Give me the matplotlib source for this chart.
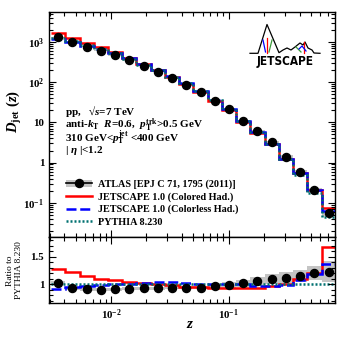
import numpy as np
import matplotlib
matplotlib.use('Agg')
import matplotlib.pyplot as plt
from matplotlib.lines import Line2D
from matplotlib.patches import Patch
from matplotlib.ticker import LogLocator, MultipleLocator, FuncFormatter, NullFormatter, FixedLocator

plt.rcParams['font.family'] = ['Liberation Serif', 'DejaVu Serif']
plt.rcParams['font.weight'] = 'bold'
plt.rcParams['mathtext.fontset'] = 'custom'
plt.rcParams['mathtext.rm'] = 'Liberation Serif:bold'
plt.rcParams['mathtext.it'] = 'Liberation Serif:italic:bold'
plt.rcParams['mathtext.bf'] = 'Liberation Serif:bold'

# z bin edges (log spaced)
z_edges = np.array([0.00309, 0.00408, 0.00540, 0.00713, 0.00942, 0.01245, 0.01644,
                    0.02173, 0.0287, 0.0379, 0.0501, 0.0662, 0.0875, 0.1156, 0.1528,
                    0.2018, 0.2667, 0.3524, 0.4656, 0.6152, 0.8128])

# D_jet(z), main panel
atlas = np.array([1290, 966, 751, 598, 468, 351, 253, 180, 128, 87, 55.5, 34.4, 21, 11,
                  6.2, 3.2, 1.4, 0.58, 0.21, 0.055])
atlas_rel_err = np.array([0.03, 0.03, 0.03, 0.03, 0.03, 0.03, 0.03, 0.03, 0.03, 0.03,
                          0.035, 0.04, 0.05, 0.06, 0.07, 0.08, 0.09, 0.10, 0.11, 0.15])
pythia = np.array([1265, 1039, 825, 664, 514, 384, 272, 194, 137, 92.6, 59.0, 35.8, 21.2,
                   10.8, 5.9, 2.91, 1.25, 0.504, 0.175, 0.0447])
colored = np.array([1615, 1271, 949, 730, 554, 398, 277, 195, 134, 88.0, 56.1, 33.7, 19.9,
                    10.0, 5.49, 2.84, 1.26, 0.549, 0.212, 0.0751])
colorless = np.array([1151, 983, 800, 651, 519, 388, 280, 202, 142, 95.4, 59.6, 36.2, 21.4,
                      10.9, 5.72, 2.82, 1.23, 0.544, 0.207, 0.0612])

# ratios to PYTHIA 8.230
atlas_ratio = np.array([1.02, 0.93, 0.91, 0.90, 0.91, 0.915, 0.93, 0.93, 0.935, 0.94, 0.94,
                        0.96, 0.99, 1.02, 1.05, 1.10, 1.12, 1.15, 1.20, 1.23])
colored_ratio = np.array([1.277, 1.223, 1.15, 1.10, 1.078, 1.036, 1.02, 1.005, 0.98, 0.95,
                          0.95, 0.94, 0.94, 0.93, 0.93, 0.975, 1.005, 1.09, 1.21, 1.68])
colorless_ratio = np.array([0.91, 0.946, 0.97, 0.98, 1.01, 1.01, 1.03, 1.04, 1.04, 1.03,
                            1.01, 1.01, 1.01, 1.01, 0.97, 0.97, 0.98, 1.08, 1.18, 1.37])
pythia_ratio = pythia / pythia

z_mid = np.sqrt(z_edges[:-1] * z_edges[1:])

RED = '#ff0000'
BLUE = '#0000ff'
TEAL = '#007070'
GREY = '#c4c4c4'
FS = 8.0

fig = plt.figure(figsize=(3.53, 3.39), dpi=100)
ax = fig.add_axes([0.1388, 0.30, 0.8102, 0.6637])
rax = fig.add_axes([0.1388, 0.1053, 0.8102, 0.1947], sharex=ax)

# main panel
ax.stairs(atlas * (1 + atlas_rel_err), z_edges, baseline=atlas * (1 - atlas_rel_err),
          fill=True, color=GREY, lw=0)
ax.stairs(colored, z_edges, baseline=None, color=RED, lw=1.8)
ax.stairs(colorless, z_edges, baseline=None, color=BLUE, lw=1.8, ls=(0, (4, 1.5)))
ax.stairs(pythia, z_edges, baseline=None, color=TEAL, lw=1.8, ls=(0, (0.8, 0.8)))
ax.plot(z_mid, atlas, 'o', color='k', ms=5.8, zorder=5)

ax.set_xscale('log')
ax.set_yscale('log')
ax.set_xlim(0.00297, 0.80)
ax.set_ylim(0.014, 5400)

def ylabfmt(v, pos):
    e = int(round(np.log10(v)))
    if e == 0:
        return '1'
    if e == 1:
        return '10'
    return r'$10^{%d}$' % e

ax.yaxis.set_major_locator(LogLocator(base=10, numticks=20))
ax.yaxis.set_minor_locator(LogLocator(base=10, subs=np.arange(2, 10), numticks=20))
ax.yaxis.set_major_formatter(FuncFormatter(ylabfmt))
ax.yaxis.set_minor_formatter(NullFormatter())
ax.tick_params(axis='x', which='both', labelbottom=False)

ax.set_ylabel(r'$D_{\rm jet}\ (z)$', fontsize=10.5)
ax.yaxis.set_label_coords(-0.088, 0.56)

ax.text(0.056, 0.557, r'pp,   √$s$=7 TeV', transform=ax.transAxes, fontsize=FS,
        va='center')
ax.text(0.056, 0.499, r'anti-$k_{\rm T}$  $R$=0.6,  $p_{\rm T}^{\rm trk}$>0.5 GeV',
        transform=ax.transAxes, fontsize=FS, va='center')
ax.text(0.056, 0.441, r'310 GeV<$p_{\rm T}^{\rm jet}$ <400 GeV', transform=ax.transAxes,
        fontsize=FS, va='center')
ax.text(0.056, 0.385, r'| $\eta$ |<1.2', transform=ax.transAxes, fontsize=FS, va='center')

handles = [(Patch(facecolor=GREY, edgecolor='none'),
            Line2D([], [], color='k', lw=1.2, marker='o', ms=5.8)),
           Line2D([], [], color=RED, lw=1.8),
           Line2D([], [], color=BLUE, lw=1.8, ls=(0, (4, 1.5))),
           Line2D([], [], color=TEAL, lw=1.8, ls=(0, (0.8, 0.8)))]
labels = ['ATLAS [EPJ C 71, 1795 (2011)]', 'JETSCAPE 1.0 (Colored Had.)',
          'JETSCAPE 1.0 (Colorless Had.)', 'PYTHIA 8.230']
ax.legend(handles, labels, loc='lower left', bbox_to_anchor=(0.058, 0.048), frameon=False,
          fontsize=7.3, handlelength=2.6, handletextpad=0.55, labelspacing=0.3,
          borderpad=0, borderaxespad=0)

# ratio panel
rax.stairs(atlas_ratio * (1 + atlas_rel_err), z_edges,
           baseline=atlas_ratio * (1 - atlas_rel_err), fill=True, color=GREY, lw=0)
rax.stairs(colored_ratio, z_edges, baseline=None, color=RED, lw=1.8)
rax.stairs(colorless_ratio, z_edges, baseline=None, color=BLUE, lw=1.8, ls=(0, (4, 1.5)))
rax.stairs(pythia_ratio, z_edges, baseline=None, color=TEAL, lw=1.8, ls=(0, (0.8, 0.8)))
rax.plot(z_mid, atlas_ratio, 'o', color='k', ms=5.8, zorder=5)

rax.set_ylim(0.655, 1.85)
rax.yaxis.set_major_locator(FixedLocator([1.0, 1.5]))
rax.yaxis.set_minor_locator(MultipleLocator(0.1))
rax.yaxis.set_major_formatter(FuncFormatter(lambda v, p: '%g' % v))
rax.xaxis.set_major_locator(LogLocator(base=10, numticks=10))
rax.xaxis.set_minor_locator(LogLocator(base=10, subs=np.arange(2, 10), numticks=10))
rax.xaxis.set_major_formatter(FuncFormatter(lambda v, p: r'$10^{%d}$' % int(round(np.log10(v)))))
rax.xaxis.set_minor_formatter(NullFormatter())

rax.set_ylabel('Ratio to\nPYTHIA 8.230', fontsize=6.8, linespacing=1.05)
rax.yaxis.set_label_coords(-0.092, 0.5)
rax.set_xlabel(r'$z$', fontsize=11)
rax.xaxis.set_label_coords(0.493, -0.22)

for a in (ax, rax):
    a.tick_params(which='both', direction='in', top=True, right=True, labelsize=7.8, width=0.8)
    a.tick_params(which='major', length=5)
    a.tick_params(which='minor', length=2.6)
    for s in a.spines.values():
        s.set_linewidth(1.0)
rax.tick_params(axis='x', which='major', pad=3)

# JETSCAPE logo
lg = fig.add_axes([245 / 353, 1 - 70 / 339, 80 / 353, 52 / 339])
lg.set_xlim(245, 325)
lg.set_ylim(70, 18)
lg.axis('off')
lg.plot([250, 258, 267, 279, 283, 287, 291, 295, 300, 303, 305, 308, 312, 314, 320],
        [53.3, 53.3, 24.5, 52.7, 50, 48, 50, 47, 43, 45, 42, 48, 50, 53, 53.3], color='k', lw=0.9)
lg.plot([267, 267], [38, 52.5], color=RED, lw=0.9)
lg.plot([263, 265.5], [40, 52], color=BLUE, lw=0.9)
lg.plot([272, 269], [40, 52], color='#3a9a3a', lw=0.9)
lg.plot([304, 304], [42, 53], color=RED, lw=0.9)
lg.plot([296, 301], [47, 52], color='#3a9a3a', lw=0.9)
lg.plot([299, 302, 306], [49, 46, 51], color=BLUE, lw=0.9)
lg.text(285, 62, 'JETSCAPE', fontsize=8.5, family='DejaVu Sans', weight='bold',
        ha='center', va='center', stretch='condensed')

fig.savefig('out.png', dpi=100)
